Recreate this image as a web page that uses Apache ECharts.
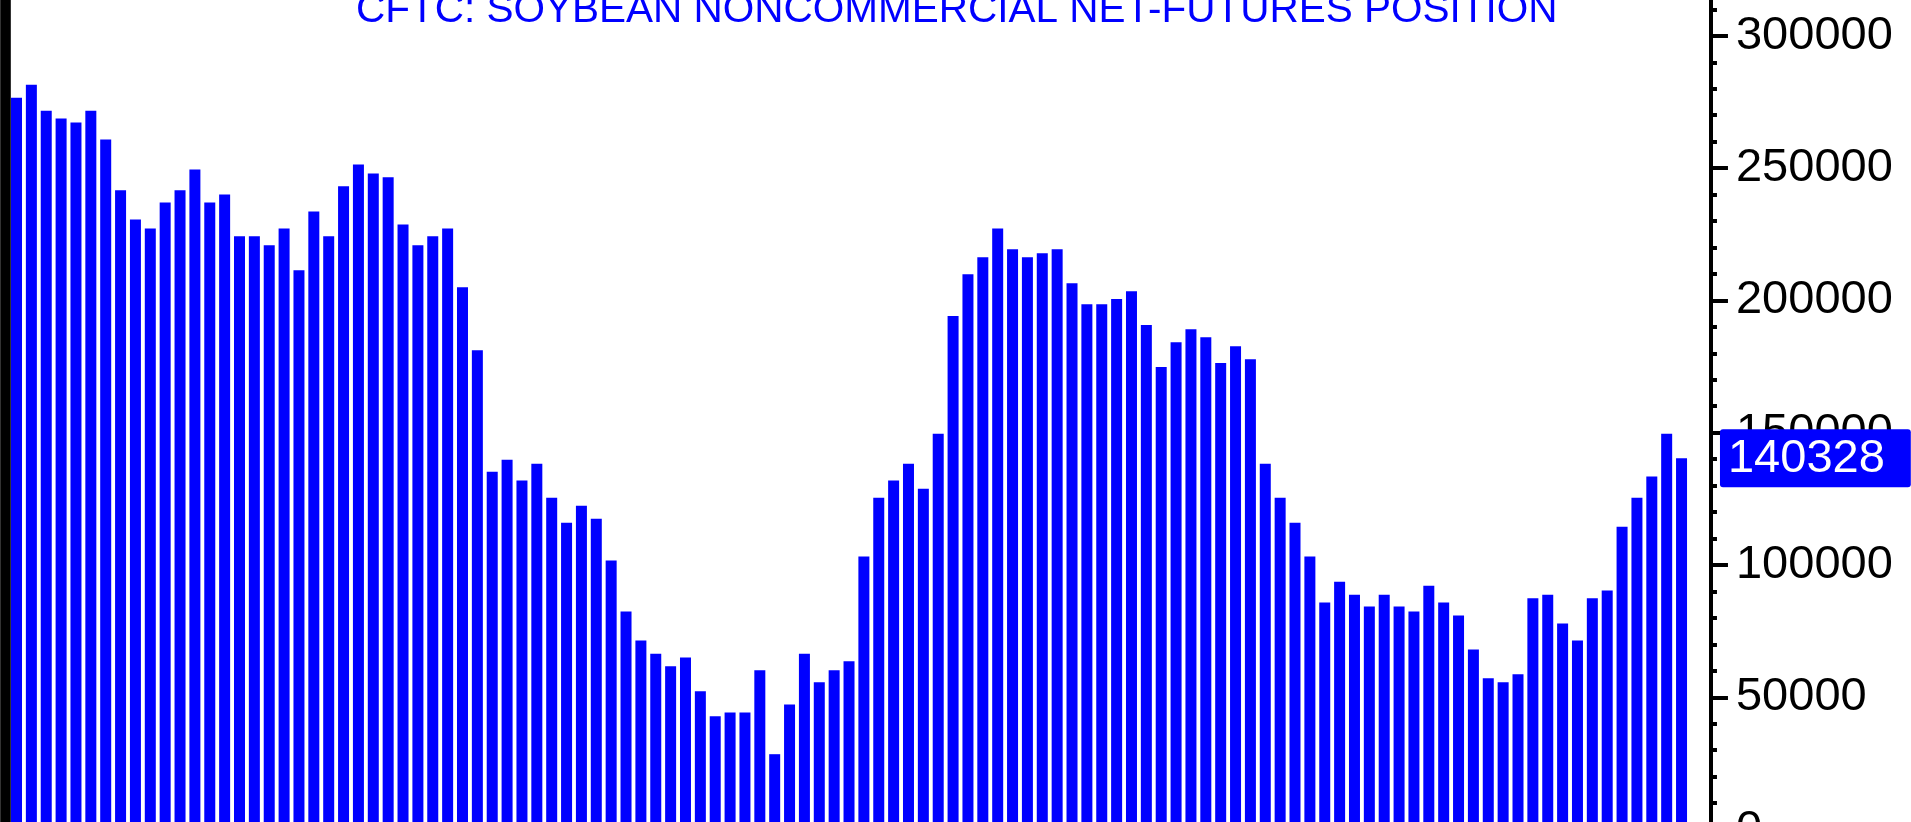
<!DOCTYPE html>
<html>
<head>
<meta charset="utf-8">
<title>CFTC Soybean Noncommercial Net-Futures Position</title>
<script src="https://cdn.jsdelivr.net/npm/echarts@6/dist/echarts.min.js"></script>
<style>
  html, body { margin: 0; padding: 0; background: #fff; overflow: hidden; }
  #chart { position: absolute; left: 0; top: -120px; width: 1911px; height: 1000px; }
</style>
</head>
<body>
<div id="chart"></div>
<script>
// weekly net position, oldest first
const netPosition = [
  276600, 281500, 271700, 268700, 267200, 271700, 260800, 241600, 230600, 227200,
  237000, 241600, 249500, 237000, 240000, 224200, 224200, 220800, 227200, 211400,
  233600, 224200, 243100, 251400, 248000, 246500, 228700, 220800, 224200, 227200,
  205000, 181200, 135200, 139800, 131900, 138300, 125400, 116000, 122400, 117500,
  101700, 82400, 71500, 66500, 61700, 65000, 52300, 42800, 44300, 44300,
  60200, 28500, 47300, 66500, 55700, 60200, 63600, 103200, 125400, 131900,
  138300, 128800, 149600, 194100, 209900, 216300, 227200, 219300, 216300, 217800,
  219300, 206500, 198500, 198500, 200500, 203500, 190700, 174800, 184200, 189100,
  186100, 176300, 182700, 177800, 138300, 125400, 116000, 103200, 85800, 93700,
  88800, 84300, 88800, 84300, 82400, 92200, 85800, 80900, 68100, 57200,
  55700, 58700, 87400, 88800, 77900, 71500, 87400, 90400, 114500, 125400,
  133400, 149600, 140328
]
const weeks = netPosition.map((v, i) => 'W' + (i + 1))
const titleText = 'CFTC: SOYBEAN NONCOMMERCIAL NET-FUTURES POSITION'
const lastValue = netPosition[netPosition.length - 1]

const labelFont = "'Liberation Sans', Arial, sans-serif"

const chart = echarts.init(document.getElementById('chart'), null, { renderer: 'canvas' })

chart.setOption({
  animation: false,
  backgroundColor: '#fff',
  graphic: [{
    type: 'text',
    x: 356,
    y: 110,
    style: {
      text: titleText,
      fill: '#0000ff',
      font: "normal 40.5px 'Liberation Sans', Arial, sans-serif",
      align: 'left',
      verticalAlign: 'top'
    }
  }],
  grid: {
    left: 9.07,
    top: 21.4,
    width: 1679.9,
    height: 928.2
  },
  xAxis: {
    type: 'category',
    data: weeks,
    axisLine: { show: false },
    axisTick: { show: false },
    axisLabel: { show: false }
  },
  yAxis: [{
    type: 'value',
    position: 'right',
    offset: 22,
    min: 0,
    max: 350000,
    interval: 50000,
    splitLine: { show: false },
    axisLine: { show: true, lineStyle: { color: '#000', width: 4 } },
    axisTick: { show: true, length: 17, lineStyle: { color: '#000', width: 4 } },
    minorTick: { show: true, splitNumber: 5, length: 6, lineStyle: { color: '#000', width: 4 } },
    axisLabel: {
      margin: 25,
      color: '#000',
      fontSize: 47,
      fontFamily: labelFont,
      formatter: v => String(v)
    },
    axisPointer: {
      show: true,
      value: lastValue,
      status: 'show',
      snap: false,
      triggerTooltip: false,
      lineStyle: { width: 0, opacity: 0 },
      label: {
        show: true,
        margin: 9,
        color: '#fff',
        backgroundColor: '#0000ff',
        fontSize: 47,
        fontFamily: labelFont,
        padding: [6, 26, 5, 8],
        formatter: p => String(Math.round(p.value))
      }
    }
  }, {
    // thick black frame on the left edge
    type: 'value',
    position: 'left',
    offset: 3.8,
    min: 0,
    max: 350000,
    splitLine: { show: false },
    axisLine: { show: true, lineStyle: { color: '#000', width: 10.6 } },
    axisTick: { show: false },
    axisLabel: { show: false }
  }],
  series: [{
    name: 'Net futures',
    type: 'bar',
    data: netPosition,
    barWidth: 11,
    itemStyle: { color: '#0000ff' }
  }]
})
</script>
</body>
</html>
